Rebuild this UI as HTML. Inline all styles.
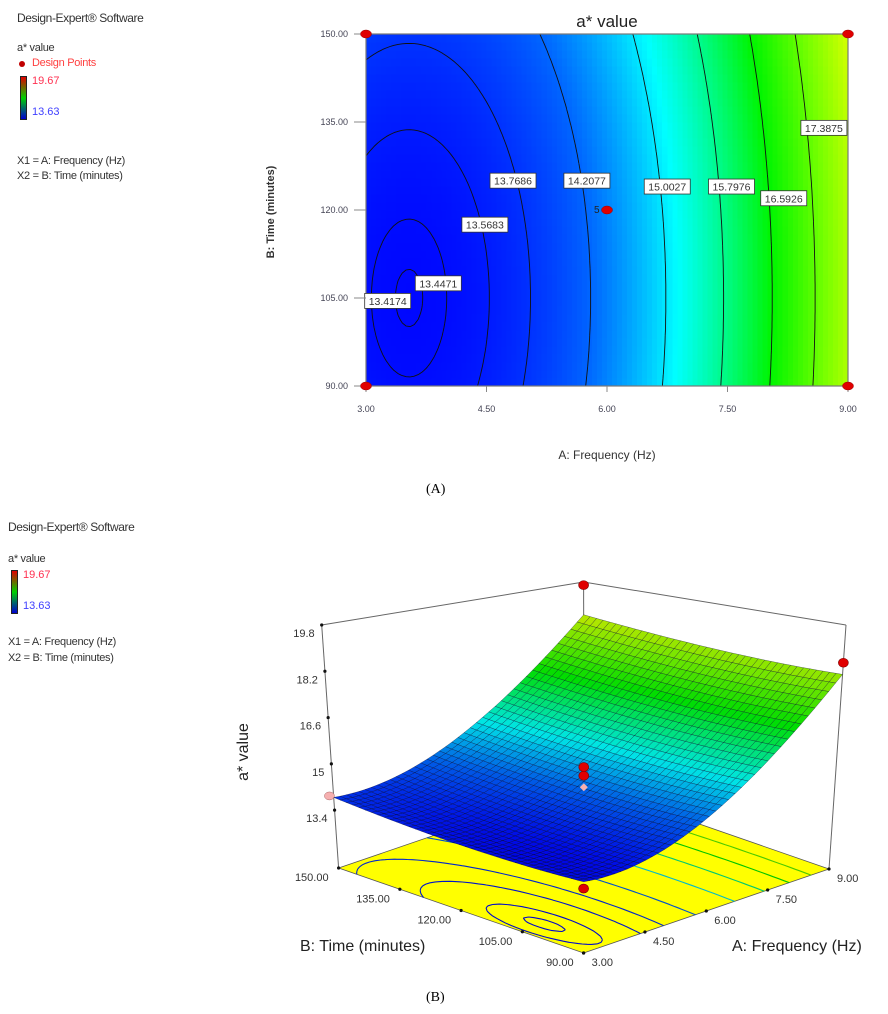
<!DOCTYPE html>
<html><head><meta charset="utf-8"><style>
body{margin:0;background:#fff;width:888px;height:1014px;overflow:hidden;font-family:"Liberation Sans",Arial,sans-serif}
.t{position:absolute;white-space:nowrap;color:#333;line-height:1}
</style></head><body>
<div>
<div class="t" style="left:17px;top:12px;font-size:12px;letter-spacing:-0.4px">Design-Expert® Software</div>
<div class="t" style="left:17px;top:43px;font-size:11px;letter-spacing:-0.3px">a* value</div>
<div style="position:absolute;left:19px;top:61px;width:6px;height:6px;border-radius:50%;background:#c00000"></div>
<div class="t" style="left:32px;top:58px;font-size:11px;color:#ff4040;letter-spacing:-0.3px">Design Points</div>
<div style="position:absolute;left:20px;top:76px;width:5px;height:42px;border:1px solid #222;background:linear-gradient(#e00000,#00d000,#0000d0)"></div>
<div class="t" style="left:32px;top:76px;font-size:11px;color:#ff3050">19.67</div>
<div class="t" style="left:32px;top:107px;font-size:11px;color:#4040ff">13.63</div>
<div class="t" style="left:17px;top:156px;font-size:11px;letter-spacing:-0.3px">X1 = A: Frequency (Hz)</div>
<div class="t" style="left:17px;top:171px;font-size:11px;letter-spacing:-0.3px">X2 = B: Time (minutes)</div>
</div>
<div>
<div class="t" style="left:8px;top:521px;font-size:12px;letter-spacing:-0.4px">Design-Expert® Software</div>
<div class="t" style="left:8px;top:554px;font-size:11px;letter-spacing:-0.3px">a* value</div>
<div style="position:absolute;left:11px;top:570px;width:5px;height:42px;border:1px solid #222;background:linear-gradient(#e00000,#00d000,#0000d0)"></div>
<div class="t" style="left:23px;top:570px;font-size:11px;color:#ff3050">19.67</div>
<div class="t" style="left:23px;top:601px;font-size:11px;color:#4040ff">13.63</div>
<div class="t" style="left:8px;top:637px;font-size:11px;letter-spacing:-0.3px">X1 = A: Frequency (Hz)</div>
<div class="t" style="left:8px;top:653px;font-size:11px;letter-spacing:-0.3px">X2 = B: Time (minutes)</div>
</div>
<div class="t" style="left:426px;top:483px;font-size:14px;color:#000;font-family:'Liberation Serif',serif">(A)</div>
<div class="t" style="left:426px;top:991px;font-size:14px;color:#000;font-family:'Liberation Serif',serif">(B)</div>
<svg id="s" width="888" height="1014" style="position:absolute;left:0;top:0" font-family="Liberation Sans, Arial, sans-serif"></svg>
<script>
// model (coded units a=(A-6)/3, b=(B-120)/30): terms 1, a, b, ab, a^2, b^2
const modelTerms = ['1','a','b','ab','a2','b2'];
const modelCoefs = [14.40, 2.3, 0.17, 0, 1.4, 0.17];
const contourLevels = [13.4174,13.4471,13.5683,13.7686,14.2077,15.0027,15.7976,16.5926,17.3875];
const contourLabelText = ['13.4174','13.4471','13.5683','13.7686','14.2077','15.0027','15.7976','16.5926','17.3875'];
const contourLabelA = [3.27,3.9,4.48,4.83,5.75,6.75,7.55,8.2,8.7];
const contourLabelB = [104.5,107.5,117.5,125,125,124,124,122,134];
const xTicks = [3,4.5,6,7.5,9];
const yTicks = [90,105,120,135,150];
const zTicks = [13.4,15,16.6,18.2,19.8];
const designA = [3,3,9,9,6];
const designB = [90,150,90,150,120];
const designValue = [13.3,13.96,18.5,19.67,14.9];
const centerReps = [14.9,14.6,14.2];

const NS='http://www.w3.org/2000/svg', S=document.getElementById('s');
function el(tag,attrs,parent){const e=document.createElementNS(NS,tag);for(const k in attrs)e.setAttribute(k,attrs[k]);(parent||S).appendChild(e);return e;}
function f(A,B){const a=(A-6)/3,b=(B-120)/30;const t=[1,a,b,a*b,a*a,b*b];let s=0;for(let i=0;i<t.length;i++)s+=modelCoefs[i]*t[i];return s;}
const cStops=[[13.35,0,0,255],[14.2,0,100,255],[15.15,0,255,255],[16.6,0,245,0],[17.6,120,255,0],[18.6,230,255,0],[19.7,255,255,0]];
function col(v,k){k=k||1;let i=0;while(i<cStops.length-2&&v>cStops[i+1][0])i++;const p=cStops[i],q=cStops[i+1];let t=(v-p[0])/(q[0]-p[0]);t=Math.max(0,Math.min(1,t));
 return 'rgb('+[1,2,3].map(j=>Math.round((p[j]+(q[j]-p[j])*t)*k)).join(',')+')';}
function contourSegs(level,nx,ny,x0,x1,y0,y1){const segs=[];const dx=(x1-x0)/nx,dy=(y1-y0)/ny;
 const g=[];for(let j=0;j<=ny;j++){g[j]=[];for(let i=0;i<=nx;i++)g[j][i]=f(x0+i*dx,y0+j*dy);}
 for(let j=0;j<ny;j++)for(let i=0;i<nx;i++){const c=[[i,j],[i+1,j],[i+1,j+1],[i,j+1]];const pts=[];
  for(let k=0;k<4;k++){const p=c[k],q=c[(k+1)%4];const vp=g[p[1]][p[0]],vq=g[q[1]][q[0]];
   if((vp<level)!==(vq<level)){const t=(level-vp)/(vq-vp);pts.push([x0+(p[0]+(q[0]-p[0])*t)*dx,y0+(p[1]+(q[1]-p[1])*t)*dy]);}}
  if(pts.length>=2)segs.push([pts[0],pts[1]]);if(pts.length===4)segs.push([pts[2],pts[3]]);}
 return segs;}

// ---------- 2D contour plot ----------
const L=366,R=848,T=34,Bt=386;
const xs=A=>L+(A-3)/6*(R-L), ys=B=>Bt-(B-90)/60*(Bt-T);
const g2=el('g',{});
const hm=el('g',{'shape-rendering':'crispEdges'},g2);


const NX=96,NY=44;
for(let i=0;i<NX;i++)for(let j=0;j<NY;j++){const A=3+(i+0.5)/NX*6,B=90+(j+0.5)/NY*60;
 const x=L+i*(R-L)/NX,y=Bt-(j+1)*(Bt-T)/NY;
 el('rect',{x:x.toFixed(2),y:y.toFixed(2),width:((R-L)/NX+0.6).toFixed(2),height:((Bt-T)/NY+0.6).toFixed(2),fill:col(f(A,B))},hm);}
contourLevels.forEach((lv,k)=>{const segs=contourSegs(lv,120,90,3,9,90,150);let d='';
 segs.forEach(s=>{d+='M'+xs(s[0][0]).toFixed(1)+' '+ys(s[0][1]).toFixed(1)+'L'+xs(s[1][0]).toFixed(1)+' '+ys(s[1][1]).toFixed(1);});
 const p=el('path',{d:d,stroke:'#111',fill:'none','stroke-width':'0.9'},g2);
 
 });
el('rect',{x:L,y:T,width:R-L,height:Bt-T,fill:'none',stroke:'#777','stroke-width':'1.2'},g2);
contourLabelText.forEach((t,k)=>{const cx=xs(contourLabelA[k]),cy=ys(contourLabelB[k]);
 const gg=el('g',{},g2);
 
 
 el('rect',{x:cx-23,y:cy-7.5,width:46,height:15,fill:'#fff',stroke:'#333','stroke-width':'0.8'},gg);
 const tx=el('text',{x:cx,y:cy+4,'text-anchor':'middle','font-size':'10.5',fill:'#333'},gg);tx.textContent=t;});
yTicks.forEach(v=>{const y=ys(v);el('line',{x1:L-12,y1:y,x2:L,y2:y,stroke:'#888','stroke-width':'1'},g2);
 const t=el('text',{x:L-18,y:y+3,'text-anchor':'end','font-size':'9',fill:'#445'},g2);t.textContent=v.toFixed(2);
 
 });
xTicks.forEach(v=>{const x=xs(v);el('line',{x1:x,y1:Bt,x2:x,y2:Bt+6,stroke:'#888','stroke-width':'1'},g2);
 const t=el('text',{x:x,y:Bt+26,'text-anchor':'middle','font-size':'9',fill:'#445'},g2);t.textContent=v.toFixed(2);
 
 });
const tt=el('text',{x:607,y:27,'text-anchor':'middle','font-size':'17',fill:'#222'},g2);tt.textContent='a* value';


const xt=el('text',{x:607,y:459,'text-anchor':'middle','font-size':'12',fill:'#333'},g2);xt.textContent='A: Frequency (Hz)';


const yt=el('text',{x:0,y:0,'text-anchor':'middle','font-size':'11','font-weight':'bold',fill:'#333',transform:'translate(274,212) rotate(-90)'},g2);yt.textContent='B: Time (minutes)';


designA.forEach((A,k)=>{const e=el('ellipse',{cx:xs(A),cy:ys(designB[k]),rx:5.5,ry:4,fill:'#e00000',stroke:'#900','stroke-width':'0.5'},g2);
 
 });
const n5=el('text',{x:xs(6)-13,y:ys(120)+3,'font-size':'10',fill:'#222'},g2);n5.textContent='5';

// ---------- 3D surface ----------
const zMin=11.4,zMax=19.8;
const FF=[[583.6,953],[829,869],[338.6,868],[584,784]]; // front,right,left,back floor
const TT=[[583.6,668],[846,625],[321.7,625],[583.6,582]];
function bil(Q,u,w){return [(1-u)*(1-w)*Q[0][0]+u*(1-w)*Q[1][0]+(1-u)*w*Q[2][0]+u*w*Q[3][0],(1-u)*(1-w)*Q[0][1]+u*(1-w)*Q[1][1]+(1-u)*w*Q[2][1]+u*w*Q[3][1]];}
function P(A,B,z){const u=(A-3)/6,w=(B-90)/60,t=(z-zMin)/(zMax-zMin);const a=bil(FF,u,w),b=bil(TT,u,w);return [a[0]+(b[0]-a[0])*t,a[1]+(b[1]-a[1])*t];}
const g3=el('g',{});
const pt=p=>p[0].toFixed(1)+','+p[1].toFixed(1);
const fl=el('polygon',{points:[P(3,90,zMin),P(9,90,zMin),P(9,150,zMin),P(3,150,zMin)].map(pt).join(' '),fill:'#ffff00',stroke:'#555','stroke-width':'0.8'},g3);


contourLevels.forEach((lv,k)=>{const segs=contourSegs(lv,60,45,3,9,90,150);let d='';
 segs.forEach(s=>{d+='M'+pt(P(s[0][0],s[0][1],zMin))+'L'+pt(P(s[1][0],s[1][1],zMin));});
 el('path',{d:d,stroke:col(lv,0.8),fill:'none','stroke-width':'1.1'},g3);});
const box=[[P(3,150,zMin),P(3,150,zMax)],[P(9,90,zMin),P(9,90,zMax)],[P(9,150,zMin),P(9,150,zMax)],[P(3,150,zMax),P(9,150,zMax)],[P(9,150,zMax),P(9,90,zMax)]];
box.forEach(l=>el('line',{x1:l[0][0],y1:l[0][1],x2:l[1][0],y2:l[1][1],stroke:'#666','stroke-width':'1'},g3));
zTicks.forEach(z=>{const p=P(3,150,z);el('circle',{cx:p[0],cy:p[1],r:1.6,fill:'#111'},g3);
 const t=el('text',{x:p[0]-7,y:p[1]+12,'text-anchor':'end','font-size':'11',fill:'#333'},g3);t.textContent=String(z);
 
 });
yTicks.forEach(v=>{const p=P(3,v,zMin);el('circle',{cx:p[0],cy:p[1],r:1.6,fill:'#111'},g3);
 const t=el('text',{x:p[0]-10,y:p[1]+13,'text-anchor':'end','font-size':'11',fill:'#333'},g3);t.textContent=v.toFixed(2);
 
 });
xTicks.forEach(v=>{const p=P(v,90,zMin);el('circle',{cx:p[0],cy:p[1],r:1.6,fill:'#111'},g3);
 const t=el('text',{x:p[0]+8,y:p[1]+13,'font-size':'11',fill:'#333'},g3);t.textContent=v.toFixed(2);
 
 });
const pl=P(designA[1],designB[1],designValue[1]);el('ellipse',{cx:pl[0]-4,cy:pl[1]+2,rx:5,ry:4,fill:'#f6b0b0',stroke:'#a66','stroke-width':'0.5'},g3);
const N=40,cells=[];
for(let i=0;i<N;i++)for(let j=0;j<N;j++)cells.push([i,j]);
cells.sort((p,q)=>(q[0]+q[1])-(p[0]+p[1]));
const sg=el('g',{},g3);


cells.forEach(c=>{const A0=3+c[0]/N*6,A1=3+(c[0]+1)/N*6,B0=90+c[1]/N*60,B1=90+(c[1]+1)/N*60;
 const v=f((A0+A1)/2,(B0+B1)/2);
 el('polygon',{points:[P(A0,B0,f(A0,B0)),P(A1,B0,f(A1,B0)),P(A1,B1,f(A1,B1)),P(A0,B1,f(A0,B1))].map(pt).join(' '),fill:col(v,0.9),stroke:'rgba(0,0,40,0.55)','stroke-width':'0.5'},sg);});
[[designA[0],designB[0],designValue[0]],[designA[2],designB[2],designValue[2]],[designA[3],designB[3],designValue[3]],[designA[4],designB[4],centerReps[0]],[designA[4],designB[4],centerReps[1]]].forEach(d=>{
 const p=P(d[0],d[1],d[2]);const e=el('ellipse',{cx:p[0],cy:p[1],rx:5,ry:4.5,fill:'#e00000',stroke:'#700','stroke-width':'0.6'},g3);
 
 });
const pc=P(6,120,centerReps[2]);el('polygon',{points:[[pc[0],pc[1]-4],[pc[0]+4,pc[1]],[pc[0],pc[1]+4],[pc[0]-4,pc[1]]].map(pt).join(' '),fill:'#f6b0b0'},g3);
const zt=el('text',{x:0,y:0,'text-anchor':'middle','font-size':'16',fill:'#222',transform:'translate(248,752) rotate(-90)'},g3);zt.textContent='a* value';


const bt=el('text',{x:300,y:951,'font-size':'16',fill:'#222'},g3);bt.textContent='B: Time (minutes)';


const at=el('text',{x:732,y:951,'font-size':'16',fill:'#222'},g3);at.textContent='A: Frequency (Hz)';


</script>
</body></html>
